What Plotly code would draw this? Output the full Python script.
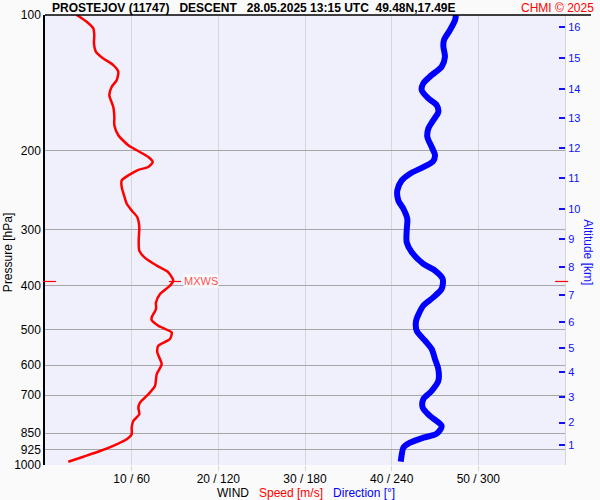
import math
import plotly.graph_objects as go

# ---- data ----
speed_pres = [100, 103.5, 107.1, 110.8, 115.6, 120.7, 124.9, 129.2, 133.7, 139.6, 144.4, 150.7,
              160.1, 168.5, 175.8, 185.0, 194.8, 199.8, 206.8, 212.2, 217.7, 220.6, 226.0, 233.1,
              241.3, 251.8, 262.7, 271.9, 281.4, 296.2, 317.1, 333.8, 346.5, 360.5, 373.1, 389.3,
              399.4, 416.8, 435.1, 450.1, 469.9, 476.2, 490.3, 507.5, 524.8, 543.2, 562.2, 596.7,
              628.1, 667.2, 696.2, 726.8, 745.6, 771.3, 798.3, 826.2, 854.6, 876.8, 899.5, 931.0,
              958.4, 983.2]
speed = [3.66, 4.81, 5.57, 5.69, 5.65, 5.88, 6.73, 7.88, 8.46, 8.27, 7.70, 7.42,
         7.88, 8.00, 8.00, 8.46, 9.61, 10.58, 11.92, 12.43, 11.92, 10.85, 9.81, 8.85,
         8.85, 9.12, 9.43, 10.0, 10.65, 10.88, 10.81, 10.88, 11.54, 12.89, 14.23, 14.80,
         14.42, 13.27, 12.81, 12.81, 12.31, 12.31, 13.07, 14.62, 14.42, 13.07, 12.96, 13.46,
         12.89, 12.69, 11.92, 10.96, 10.77, 10.88, 10.19, 10.0, 10.0, 9.43, 8.27, 6.35,
         4.42, 2.69]

dir_pres = [100, 102.6, 108.0, 113.7, 117.6, 123.8, 130.3, 136.0, 141.9, 146.9, 153.3, 158.7,
            164.2, 171.4, 178.8, 186.6, 196.5, 205.0, 211.4, 217.7, 225.2, 233.1, 245.4, 258.3,
            269.5, 283.7, 301.2, 319.9, 336.7, 357.3, 369.8, 385.9, 406.1, 424.1, 442.5, 461.0,
            477.9, 503.0, 529.4, 552.5, 581.6, 612.2, 650.3, 684.4, 714.2, 745.6, 778.1, 819.0,
            852.0, 869.6, 892.1, 915.3, 946.8, 983.2]
direction = [284.5, 283.9, 280.4, 276.2, 275.8, 276.9, 274.6, 267.7, 261.9, 260.8, 265.4, 271.2,
             272.3, 268.8, 265.4, 264.7, 267.7, 270.0, 268.6, 261.9, 252.7, 247.0, 243.9, 244.6,
             248.1, 250.8, 250.4, 250.4, 253.9, 261.9, 270.0, 275.3, 274.6, 268.8, 261.9, 258.8,
             256.9, 257.3, 263.1, 267.7, 270.0, 272.3, 272.3, 267.7, 261.9, 261.5, 266.5, 274.6,
             271.2, 261.9, 252.7, 248.1, 247.0, 246.3]

pres_ticks = [100, 200, 300, 400, 500, 600, 700, 850, 925, 1000]
speed_ticks = [10, 20, 30, 40, 50]
speed_tick_text = ["10 / 60", "20 / 120", "30 / 180", "40 / 240", "50 / 300"]
alt_km = [16, 15, 14, 13, 12, 11, 10, 9, 8, 7, 6, 5, 4, 3, 2, 1]
alt_pres = [106.2, 124.9, 146.2, 169.6, 197.5, 230.3, 270.4, 315.4, 363.6, 418.8,
            480.3, 549.8, 621.6, 706.6, 805.1, 903.9]
mxws_pres = 391
mxws_speed = 14.8

FONT = "Arial, Liberation Sans, sans-serif"

fig = go.Figure()
fig.add_trace(go.Scatter(x=direction, y=dir_pres, mode="lines", xaxis="x2", yaxis="y",
                         line=dict(color="#0000ff", width=6, shape="spline", smoothing=0.8),
                         hoverinfo="skip"))
fig.add_trace(go.Scatter(x=speed, y=speed_pres, mode="lines", xaxis="x", yaxis="y",
                         line=dict(color="#ff0000", width=2.5, shape="spline", smoothing=0.6),
                         hoverinfo="skip"))
# dummy trace to activate right axis
fig.add_trace(go.Scatter(x=[None], y=[None], xaxis="x", yaxis="y2", showlegend=False))

fig.update_layout(
    width=600, height=500,
    margin=dict(l=45, r=35, t=15, b=35, pad=0),
    paper_bgcolor="#fafafa", plot_bgcolor="#f0f0fd",
    showlegend=False,
    font=dict(family=FONT, size=12, color="#000000"),
    xaxis=dict(range=[0, 60], tickvals=speed_ticks, ticktext=speed_tick_text,
               showgrid=True, gridcolor="#d6d6d6", gridwidth=1, zeroline=False,
               ticks="outside", ticklen=5, tickcolor="#d6d6d6", automargin=False,
               ticklabelstandoff=-2,
               showline=False, tickfont=dict(size=12, color="#000")),
    xaxis2=dict(range=[0, 360], overlaying="x", visible=False, automargin=False),
    yaxis=dict(type="log", range=[3, 2], tickvals=pres_ticks,
               ticktext=[str(v) for v in pres_ticks], automargin=False,
               showgrid=True, gridcolor="#a6a6a6", gridwidth=1, zeroline=False,
               showline=True, linecolor="#000000", linewidth=1.5, ticks="",
               tickfont=dict(size=12, color="#000")),
    yaxis2=dict(type="log", range=[3, 2], overlaying="y", side="right",
                tickvals=alt_pres, ticktext=[str(a) for a in alt_km], automargin=False,
                ticks="inside", ticklen=6, tickwidth=2, tickcolor="#1010ff",
                showgrid=False, zeroline=False, showline=True, linecolor="#d4d4dc", linewidth=1,
                tickfont=dict(size=11, color="#1010ff")),
)

# top border
fig.add_shape(type="line", xref="paper", yref="paper", x0=0, x1=1.05, y0=1, y1=1,
              line=dict(color="#000", width=1.5))

# MXWS markers
fig.add_shape(type="line", xref="paper", yref="y", x0=-0.004, x1=0.021, y0=mxws_pres, y1=mxws_pres,
              line=dict(color="#ff0000", width=1.2))
fig.add_shape(type="line", xref="paper", yref="y", x0=0.981, x1=1.006, y0=mxws_pres, y1=mxws_pres,
              line=dict(color="#ff0000", width=1.2))
fig.add_shape(type="line", xref="x", yref="y", x0=mxws_speed - 0.5, x1=mxws_speed + 0.9,
              y0=mxws_pres, y1=mxws_pres, line=dict(color="#ff0000", width=1.2))
fig.add_annotation(x=mxws_speed + 1.1, y=math.log10(mxws_pres), xref="x", yref="y", text="MXWS",
                   showarrow=False, xanchor="left", yanchor="middle",
                   font=dict(size=11, color="#ff5050"), bgcolor="rgba(255,255,255,0.85)",
                   borderpad=0)

# titles
fig.add_annotation(x=0.0096, y=1.0156, xref="paper", yref="paper",
                   text="<b>PROSTEJOV (11747)   DESCENT   28.05.2025 13:15 UTC  49.48N,17.49E</b>",
                   showarrow=False, xanchor="left", yanchor="middle",
                   font=dict(size=12, color="#000"))
fig.add_annotation(x=1.0596, y=1.0156, xref="paper", yref="paper", text="CHMI © 2025",
                   showarrow=False, xanchor="right", yanchor="middle",
                   font=dict(size=12, color="#ff0000"))
fig.add_annotation(x=0.502, y=-0.0615, xref="paper", yref="paper",
                   text="WIND   <span style='color:#ff0000'>Speed [m/s]</span>   "
                        "<span style='color:#0000ff'>Direction [°]</span>",
                   showarrow=False, xanchor="center", yanchor="middle",
                   font=dict(size=12, color="#000"))
fig.add_annotation(x=-0.0712, y=0.473, xref="paper", yref="paper", text="Pressure [hPa]",
                   textangle=-90, showarrow=False, xanchor="center", yanchor="middle",
                   font=dict(size=12, color="#000"))
fig.add_annotation(x=1.044, y=0.473, xref="paper", yref="paper", text="Altitude [km]",
                   textangle=90, showarrow=False, xanchor="center", yanchor="middle",
                   font=dict(size=12, color="#1010ff"))

fig.write_html("out.html", config={"displayModeBar": False},
               post_script="document.body.style.margin='0px';document.body.style.overflow='hidden';")
